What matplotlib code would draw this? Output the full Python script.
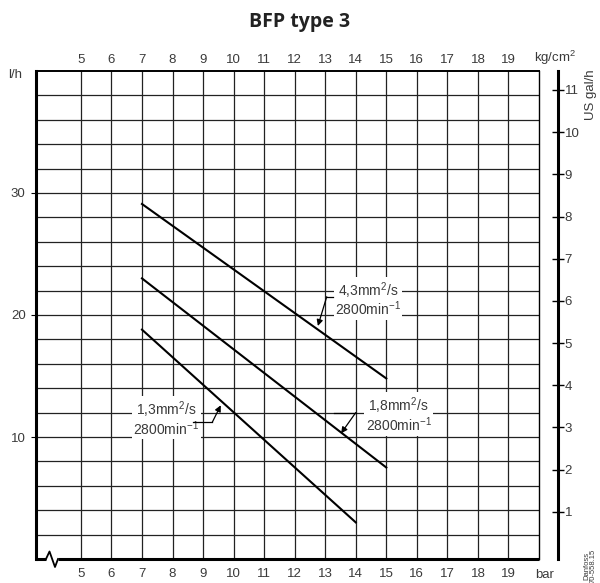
import numpy as np
import matplotlib.pyplot as plt

plt.rcParams['font.family'] = ['Liberation Sans', 'DejaVu Sans']
plt.rcParams['mathtext.fontset'] = 'custom'
plt.rcParams['mathtext.rm'] = 'Liberation Sans'
plt.rcParams['mathtext.it'] = 'Liberation Sans:italic'

# curves: viscosity, start/end pressure (bar), start/end flow (l/h)
visc = ['4,3', '1,8', '1,3']
p_start = [7, 7, 7]
p_end = [15, 15, 14]
q_start = [29.1, 23.0, 18.8]
q_end = [14.8, 7.5, 3.0]

bar_ticks = list(range(5, 20))
kg_ticks = list(range(5, 20))
lh_ticks = [10, 20, 30]
gal_ticks = list(range(1, 12))

# label positions (text centre, stub start, stub end, arrow tip) in data units
lbl_xy = [(14.4, 21.3), (15.4, 11.8), (7.8, 11.5)]
stub_a = [(13.25, 21.5), (13.3, 12.0), (8.66, 11.2)]
stub_b = [(13.05, 21.5), (14.0, 12.0), (9.30, 11.2)]
tips = [(12.76, 19.1), (13.52, 10.3), (9.58, 12.6)]

fig = plt.figure(figsize=(6, 5.83), dpi=100)
ax = fig.add_axes([36/600, 24/583, 503/600, 488/583])
ax.set_xlim(3.53, 20)
ax.set_ylim(0, 40)

# grid
for x in bar_ticks:
    ax.axvline(x, color='#222222', lw=0.9, zorder=1)
for y in np.arange(2, 40, 2):
    ax.axhline(y, color='#222222', lw=0.9, zorder=1)

for i in range(len(visc)):
    ax.plot([p_start[i], p_end[i]], [q_start[i], q_end[i]], color='black', lw=1.5, zorder=3)
    ax.text(lbl_xy[i][0], lbl_xy[i][1], visc[i] + 'mm$^{2}$/s\n2800min$^{-1}$',
            ha='center', va='center', fontsize=10, color='#3a3a3a', linespacing=0.95,
            bbox=dict(facecolor='white', edgecolor='none', pad=1.0), zorder=4)
    ax.plot([stub_a[i][0], stub_b[i][0]], [stub_a[i][1], stub_b[i][1]], color='black', lw=0.9, zorder=4)
    ax.annotate('', xy=tips[i], xytext=stub_b[i],
                arrowprops=dict(arrowstyle='-|>', color='black', lw=0.9,
                                mutation_scale=9, shrinkA=0, shrinkB=0), zorder=4)

ax.spines['bottom'].set_visible(False)
ax.spines['left'].set_linewidth(2.2)
ax.spines['top'].set_linewidth(1.4)
ax.spines['right'].set_linewidth(1.0)

# bottom axis line with break symbol
ax.plot([0, 10/503], [0, 0], color='black', lw=2.2, transform=ax.transAxes,
        clip_on=False, zorder=5, solid_capstyle='butt')
ax.plot([22/503, 1], [0, 0], color='black', lw=2.2, transform=ax.transAxes,
        clip_on=False, zorder=5, solid_capstyle='butt')
brk_x = [10, 13.5, 19, 22]
brk_y = [0, 7.5, -8, 0]
ax.plot([b/503 for b in brk_x], [b/488 for b in brk_y], color='black', lw=1.3,
        transform=ax.transAxes, clip_on=False, zorder=5)

ax.set_xticks(bar_ticks)
ax.set_xticklabels([str(v) for v in bar_ticks])
ax.set_yticks(lh_ticks)
ax.tick_params(axis='x', bottom=False, top=False, labelsize=9.5,
               labelcolor='#3a3a3a', pad=3)
ax.tick_params(axis='y', left=False, labelsize=9.5, labelcolor='#3a3a3a', pad=4)

# top axis kg/cm2
axt = ax.secondary_xaxis('top')
axt.set_xticks(kg_ticks)
axt.set_xticklabels([str(v) for v in kg_ticks])
axt.tick_params(axis='x', top=False, labelsize=9.5, labelcolor='#3a3a3a', pad=0)
axt.spines['top'].set_visible(False)

# right axis US gal/h
ax2 = ax.twinx()
ax2.set_ylim(-0.12, 11.45)
for s in ['top', 'bottom', 'left']:
    ax2.spines[s].set_visible(False)
ax2.spines['right'].set_position(('outward', 14))
ax2.spines['right'].set_linewidth(2.2)
ax2.set_yticks(gal_ticks)
ax2.tick_params(axis='y', direction='inout', length=9, width=1.0, labelsize=9.5,
                labelcolor='#3a3a3a', pad=0)

fig.text(0.5, 0.962, 'BFP type 3', ha='center', va='center', fontsize=14,
         fontweight='bold', family=['Open Sans', 'DejaVu Sans'], color='#222222')
fig.text(15/600, 1 - 75/583, 'l/h', ha='center', va='center', fontsize=9.5, color='#3a3a3a')
fig.text(555/600, 1 - 58/583, 'kg/cm$^{2}$', ha='center', va='center', fontsize=9.5, color='#3a3a3a')
fig.text(591/600, 1 - 95/583, 'US gal/h', ha='center', va='center', fontsize=9.5,
         rotation=90, color='#3a3a3a')
fig.text(545/600, 1 - 575/583, 'bar', ha='center', va='center', fontsize=9.5, color='#3a3a3a')
fig.text(590/600, 1 - 566/583, 'Danfoss\n70-558.15', ha='center', va='center', fontsize=5.5,
         rotation=90, color='#3a3a3a', linespacing=1.0)

fig.savefig('out.png', dpi=100)
